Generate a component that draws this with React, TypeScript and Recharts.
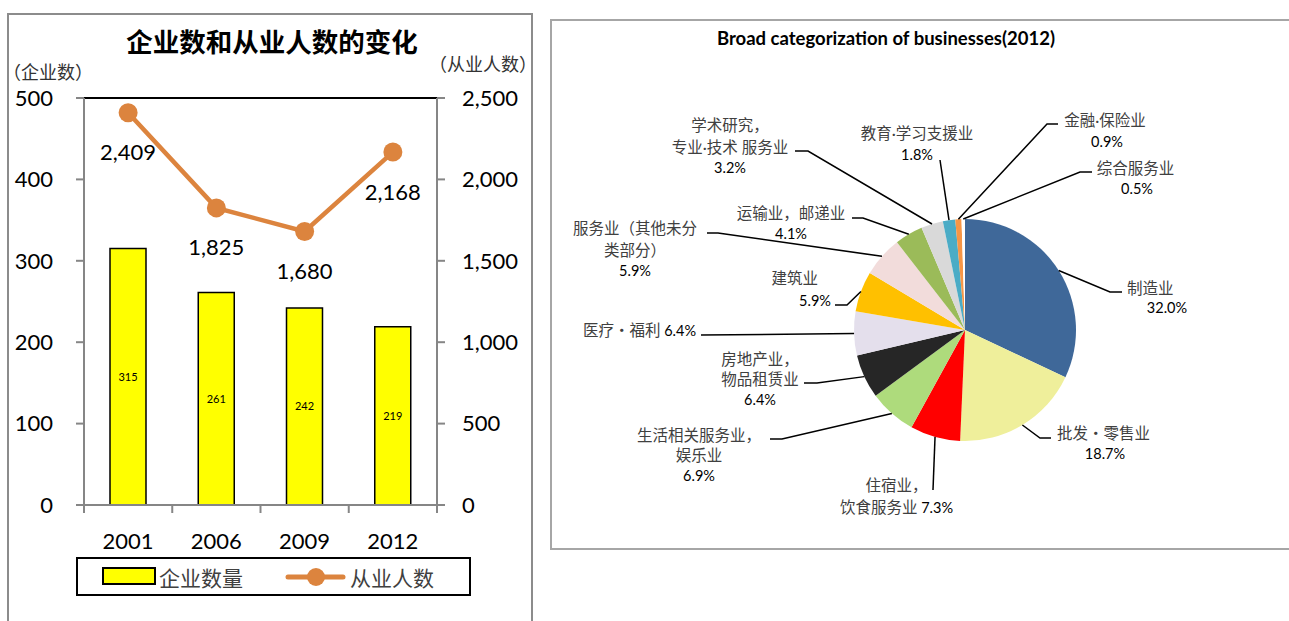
import React from 'react';
import { ComposedChart, Bar, Line, XAxis, YAxis, ReferenceLine, LabelList, PieChart, Pie, Cell } from 'recharts';

// ---------- data: left chart ----------
const years = ['2001', '2006', '2009', '2012'];
const companyCounts = [315, 261, 242, 219];
const employeeCounts = [2409, 1825, 1680, 2168];
const leftTicks = [0, 100, 200, 300, 400, 500];
const rightTicks = [0, 500, 1000, 1500, 2000, 2500];

// ---------- data: pie ----------
const industryNames = [
  '制造业', '批发・零售业', '住宿业，饮食服务业', '生活相关服务业，娱乐业', '房地产业，物品租赁业',
  '医疗・福利', '建筑业', '服务业（其他未分类部分）', '运输业，邮递业', '学术研究，专业·技术 服务业',
  '教育·学习支援业', '金融·保险业', '综合服务业',
];
const industryShares = [32.0, 18.7, 7.3, 6.9, 6.4, 6.4, 5.9, 5.9, 4.1, 3.2, 1.8, 0.9, 0.5];
const industryLabelLines = [
  ['制造业'], ['批发・零售业'], ['住宿业，', '饮食服务业'], ['生活相关服务业，', '娱乐业'], ['房地产业，', '物品租赁业'],
  ['医疗・福利'], ['建筑业'], ['服务业（其他未分', '类部分）'], ['运输业，邮递业'], ['学术研究，', '专业·技术 服务业'],
  ['教育·学习支援业'], ['金融·保险业'], ['综合服务业'],
];
const industryColors = [
  '#3F6899', '#EFEF9B', '#FF0000', '#AEDB7C', '#262626', '#E4DFEC', '#FFC000',
  '#F2DCDB', '#9BBB59', '#D9D9D9', '#4BACC6', '#F79646', '#FFFFFF',
];

// ---------- styles / layout ----------
const ORANGE = '#DC843E';
const AXIS_GREY = '#868686';
const NUM_FONT = 'Lato, "Liberation Sans", sans-serif';
const CJK_FONT = '"Noto Sans CJK SC", "Noto Sans", sans-serif';
const LABEL_FONT = 'Lato, "Noto Sans CJK SC", sans-serif';

// label layout (offsets relative to pie centre): leader path after edge point, text line positions
const labelLayout: { path: number[][]; pos: [number, number, string][]; inline?: boolean }[] = [
  { path: [[145, -38], [157, -38]], pos: [[162, -42, 'start'], [202, -23, 'middle']] },
  { path: [[75, 108], [86, 108]], pos: [[92, 103, 'start'], [140, 123, 'middle']] },
  { path: [[-32, 160]], pos: [[-68.5, 155, 'middle'], [-68.5, 177, 'middle']], inline: true },
  { path: [[-183, 109], [-195, 109]], pos: [[-266, 105, 'middle'], [-266, 125, 'middle'], [-266, 145, 'middle']] },
  { path: [[-148, 53], [-161, 53]], pos: [[-205, 29, 'middle'], [-205, 49, 'middle'], [-205, 69, 'middle']] },
  { path: [[-264, 5]], pos: [[-269, 0, 'end']], inline: true },
  { path: [[-118, -25], [-130, -25]], pos: [[-193.5, -52, 'start'], [-150, -30, 'middle']] },
  { path: [[-247, -97], [-258, -97]], pos: [[-330, -102, 'middle'], [-330, -80, 'middle'], [-330, -60, 'middle']] },
  { path: [[-102, -112], [-113, -112]], pos: [[-174, -117, 'middle'], [-174, -97, 'middle']] },
  { path: [[-157, -179], [-170, -179]], pos: [[-235, -205, 'middle'], [-235, -183, 'middle'], [-235, -163, 'middle']] },
  { path: [[-25, -170]], pos: [[-48, -197, 'middle'], [-48, -176, 'middle']] },
  { path: [[82, -206], [93, -206]], pos: [[140, -210, 'middle'], [142, -189, 'middle']] },
  { path: [[115, -158], [127, -158]], pos: [[170.5, -162, 'middle'], [172, -142, 'middle']] },
];

const barData = years.map((y, i) => ({ year: y, companies: companyCounts[i], employees: employeeCounts[i] }));
const pieData = industryNames.map((n, i) => ({ name: n, value: industryShares[i] }));

const XTick = (props: any) => {
  const { x, y, payload, index, visibleTicksCount, width } = props;
  const count = visibleTicksCount || years.length;
  const w = typeof width === 'number' && width > 0 ? width : 353;
  const half = w / count / 2;
  return (
    <g>
      <line x1={x - half} x2={x - half} y1={y - 8} y2={y} stroke={AXIS_GREY} strokeWidth={2} />
      {index === count - 1 && <line x1={x + half} x2={x + half} y1={y - 8} y2={y} stroke={AXIS_GREY} strokeWidth={2} />}
      <text x={x} y={y + 27} textAnchor="middle" dominantBaseline="central" fontSize={22} fontFamily={NUM_FONT} fill="#000">
        {payload.value}
      </text>
    </g>
  );
};

const EmployeeLabel = (props: any) => {
  const { x, y, value } = props;
  return (
    <text x={x} y={y + 39} textAnchor="middle" dominantBaseline="central" fontSize={22} fontFamily={NUM_FONT} fill="#000">
      {Number(value).toLocaleString('en-US')}
    </text>
  );
};

const RAD = Math.PI / 180;
const renderPieLabel = (props: any) => {
  const { cx, cy, midAngle, outerRadius, index, value } = props;
  const lay = labelLayout[index];
  if (!lay) return null;
  const sx = cx + outerRadius * Math.cos(-midAngle * RAD);
  const sy = cy + outerRadius * Math.sin(-midAngle * RAD);
  const pts = [[sx, sy], ...lay.path.map(([dx, dy]) => [cx + dx, cy + dy])];
  const pct = Number(value).toFixed(1) + '%';
  const lines = industryLabelLines[index];
  const texts: React.ReactNode[] = [];
  lines.forEach((ln, i) => {
    const [dx, dy, anchor] = lay.pos[i];
    const isLast = i === lines.length - 1;
    texts.push(
      <text key={'n' + i} x={cx + dx} y={cy + dy} textAnchor={anchor as any} dominantBaseline="central" style={{ whiteSpace: 'pre' }}>
        <tspan fontFamily={LABEL_FONT} fontSize={15.5} fill="#404040">{ln}</tspan>
        {lay.inline && isLast && <tspan fontFamily={NUM_FONT} fontSize={14.5} fill="#000">{' ' + pct}</tspan>}
      </text>
    );
  });
  if (!lay.inline) {
    const [dx, dy, anchor] = lay.pos[lines.length];
    texts.push(
      <text key="p" x={cx + dx} y={cy + dy} textAnchor={anchor as any} dominantBaseline="central" fontFamily={NUM_FONT} fontSize={14.5} fill="#000">
        {pct}
      </text>
    );
  }
  return (
    <g>
      <polyline points={pts.map((p) => p.join(',')).join(' ')} fill="none" stroke="#000" strokeWidth={1.5} />
      {texts}
    </g>
  );
};

export default function App() {
  return (
    <div style={{ position: 'absolute', left: 0, top: 0, width: 1289, height: 621, background: '#fff', overflow: 'hidden' }}>
      {/* left chart frame */}
      <div style={{ position: 'absolute', left: 7, top: 13, width: 522, height: 700, border: '2px solid #8C8C8C' }} />
      {/* right chart frame */}
      <div style={{ position: 'absolute', left: 550, top: 19, width: 800, height: 527, border: '2px solid #A6A6A6' }} />

      <div style={{ position: 'absolute', left: 0, top: 0 }}>
        <ComposedChart width={540} height={621} data={barData} margin={{ top: 98, right: 8, bottom: 56, left: 0 }}>
          <XAxis dataKey="year" height={60} axisLine={{ stroke: AXIS_GREY, strokeWidth: 2 }} tickLine={false} tickSize={8} tickMargin={0} tick={<XTick />} interval={0} />
          <YAxis yAxisId="left" orientation="left" width={84} domain={[0, 500]} ticks={leftTicks} interval={0}
            axisLine={{ stroke: AXIS_GREY, strokeWidth: 2 }} tickLine={{ stroke: AXIS_GREY, strokeWidth: 2 }} tickSize={8} tickMargin={23}
            tick={{ fontSize: 22, fill: '#000', fontFamily: NUM_FONT }} />
          <YAxis yAxisId="right" orientation="right" width={95} domain={[0, 2500]} ticks={rightTicks} interval={0}
            axisLine={{ stroke: AXIS_GREY, strokeWidth: 2 }} tickLine={{ stroke: AXIS_GREY, strokeWidth: 2 }} tickSize={8} tickMargin={17}
            tick={{ fontSize: 22, fill: '#000', fontFamily: NUM_FONT }} tickFormatter={(v: number) => v.toLocaleString('en-US')} />
          <ReferenceLine yAxisId="left" y={500} stroke="#000" strokeWidth={2} />
          <Bar yAxisId="left" dataKey="companies" fill="#FFFF00" stroke="#000" strokeWidth={1.5} barSize={36} isAnimationActive={false}>
            <LabelList dataKey="companies" position="center" fontSize={11} fill="#000" fontFamily={NUM_FONT} />
          </Bar>
          <Line yAxisId="right" dataKey="employees" stroke={ORANGE} strokeWidth={4.5} isAnimationActive={false}
            dot={{ r: 9.5, fill: ORANGE, stroke: ORANGE, strokeWidth: 0 }} activeDot={false}>
            <LabelList dataKey="employees" content={<EmployeeLabel />} />
          </Line>
        </ComposedChart>
      </div>

      <div style={{ position: 'absolute', left: 551, top: 20 }}>
        <PieChart width={738} height={528} margin={{ top: 0, right: 0, bottom: 0, left: 0 }}>
          <Pie data={pieData} dataKey="value" nameKey="name" cx={414} cy={310} outerRadius={111} startAngle={90} endAngle={-270}
            stroke="none" label={renderPieLabel} labelLine={false} isAnimationActive={false}>
            {pieData.map((d, i) => (
              <Cell key={d.name} fill={industryColors[i]} />
            ))}
          </Pie>
        </PieChart>
      </div>

      {/* titles, unit labels, legend */}
      <svg width={1289} height={621} style={{ position: 'absolute', left: 0, top: 0, pointerEvents: 'none' }}>
        <text x={272} y={40} textAnchor="middle" dominantBaseline="central" fontSize={26.5} fontWeight="bold" fontFamily={CJK_FONT} fill="#000">
          企业数和从业人数的变化
        </text>
        <text x={3} y={71} dominantBaseline="central" fontSize={18} fontFamily={CJK_FONT} fill="#333">（企业数）</text>
        <text x={537} y={63} textAnchor="end" dominantBaseline="central" fontSize={18} fontFamily={CJK_FONT} fill="#333">（从业人数）</text>
        <text x={886} y={38} textAnchor="middle" dominantBaseline="central" fontSize={18.5} fontWeight="bold" fontFamily={NUM_FONT} fill="#000">
          Broad categorization of businesses(2012)
        </text>

        <rect x={77} y={558} width={393} height={37} fill="#fff" stroke="#000" strokeWidth={2} />
        <rect x={103} y={568} width={52} height={16} fill="#FFFF00" stroke="#000" strokeWidth={2} />
        <text x={159} y={577} dominantBaseline="central" fontSize={21} fontFamily={CJK_FONT} fill="#404040">企业数量</text>
        <line x1={288} x2={343} y1={577} y2={577} stroke={ORANGE} strokeWidth={5} strokeLinecap="round" />
        <circle cx={316} cy={577} r={9} fill={ORANGE} />
        <text x={350} y={577} dominantBaseline="central" fontSize={21} fontFamily={CJK_FONT} fill="#404040">从业人数</text>
      </svg>
    </div>
  );
}
